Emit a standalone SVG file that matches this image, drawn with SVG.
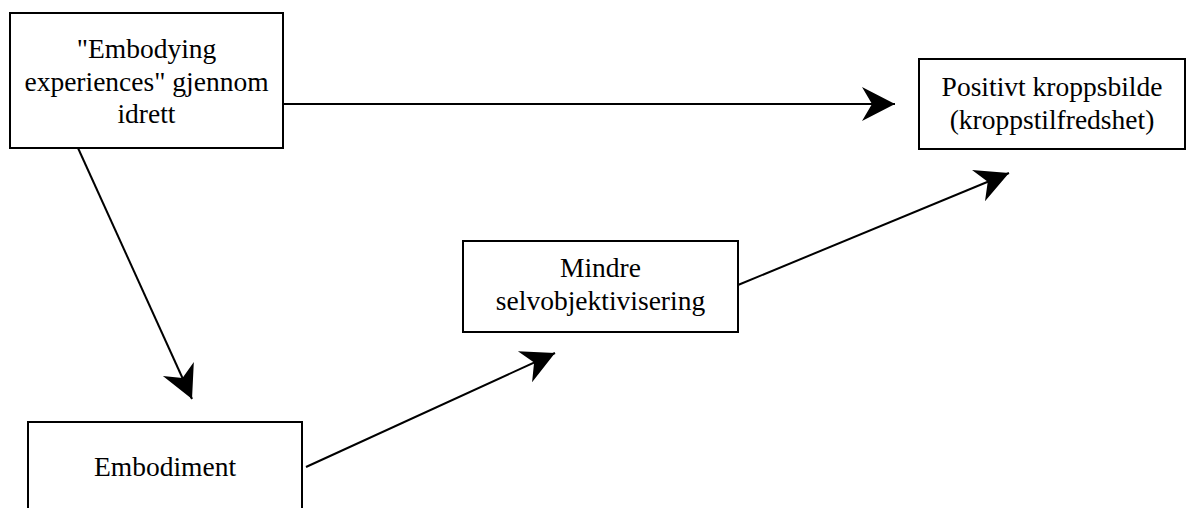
<svg xmlns="http://www.w3.org/2000/svg" width="1188" height="508" viewBox="0 0 1188 508">
  <style>
    .box { fill: #ffffff; stroke: #000000; stroke-width: 2; }
    .lbl { font-family: "Liberation Serif", "Times New Roman", serif; font-size: 27.5px; fill: #000000; text-anchor: middle; }
    .edge { stroke: #000000; stroke-width: 2; fill: none; marker-end: url(#arrow); }
  </style>
  <defs>
    <marker id="arrow" markerUnits="userSpaceOnUse" viewBox="-36 -20 40 40" refX="0" refY="0" markerWidth="40" markerHeight="40" orient="auto" overflow="visible">
      <path d="M0,0 L-33,-17 L-23,0 L-33,17 Z" fill="#000000" stroke="none"/>
    </marker>
  </defs>
  <rect width="1188" height="508" fill="#ffffff"/>
  <g id="connectors">
    <line class="edge" x1="283" y1="104" x2="895" y2="104"/>
    <line class="edge" x1="78" y1="148" x2="192" y2="399"/>
    <line class="edge" x1="306" y1="467" x2="555" y2="353"/>
    <line class="edge" x1="738" y1="285" x2="1009" y2="173"/>
  </g>
  <g id="node-embodying">
    <rect class="box" x="10" y="13" width="273" height="135"/>
    <text class="lbl" x="146.5" y="58">"Embodying</text>
    <text class="lbl" x="146.5" y="91">experiences" gjennom</text>
    <text class="lbl" x="146.5" y="123">idrett</text>
  </g>
  <g id="node-positivt">
    <rect class="box" x="919" y="59" width="266" height="90"/>
    <text class="lbl" x="1052" y="96">Positivt kroppsbilde</text>
    <text class="lbl" x="1052" y="129">(kroppstilfredshet)</text>
  </g>
  <g id="node-mindre">
    <rect class="box" x="463" y="241" width="275" height="91"/>
    <text class="lbl" x="600.5" y="277">Mindre</text>
    <text class="lbl" x="600.5" y="310">selvobjektivisering</text>
  </g>
  <g id="node-embodiment">
    <rect class="box" x="28" y="422" width="274" height="110"/>
    <text class="lbl" x="165" y="476">Embodiment</text>
  </g>
</svg>
